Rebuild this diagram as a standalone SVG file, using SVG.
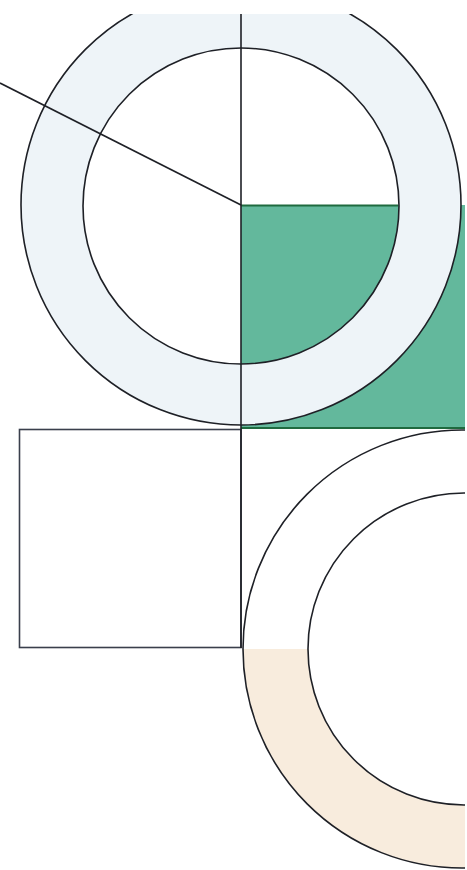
<svg xmlns="http://www.w3.org/2000/svg" width="467" height="870" viewBox="0 0 467 870">
<defs>
<clipPath id="page"><rect x="0" y="14" width="465" height="856"/></clipPath>
<clipPath id="lowerHalf"><rect x="200" y="649" width="267" height="230"/></clipPath>
</defs>
<style>
.ln{fill:none;stroke:#1e2026;stroke-width:1.6}
.box{fill:none;stroke:#3a3f4c;stroke-width:1.6}
</style>
<rect width="467" height="870" fill="#ffffff"/>
<g clip-path="url(#page)">
<g id="green-quadrant">
<rect x="241" y="205" width="224" height="223" fill="#63b89c"/>
<line x1="241" y1="205.5" x2="398" y2="205.5" stroke="#1f6a3f" stroke-width="2"/>
<line x1="241" y1="428" x2="465" y2="428" stroke="#1f6a3f" stroke-width="2"/>
</g>
<g id="top-ring">
<path d="M21,205 a220,220 0 1,0 440,0 a220,220 0 1,0 -440,0 Z M83,206 a158,158 0 1,0 316,0 a158,158 0 1,0 -316,0 Z" fill="#eef4f8" fill-rule="evenodd"/>
<circle cx="241" cy="205" r="220" class="ln"/>
<circle cx="241" cy="206" r="158" class="ln"/>
</g>
<g id="box">
<rect x="19.5" y="429.5" width="221.5" height="218" class="box"/>
</g>
<g id="bottom-ring">
<path clip-path="url(#lowerHalf)" d="M243,649 a219,219 0 1,0 438,0 a219,219 0 1,0 -438,0 Z M308,649 a156,156 0 1,0 312,0 a156,156 0 1,0 -312,0 Z" fill="#f8ecdd" fill-rule="evenodd"/>
<circle cx="462" cy="649" r="219" class="ln"/>
<circle cx="464" cy="649" r="156" class="ln"/>
</g>
<g id="connectors">
<line x1="241" y1="14" x2="241" y2="648" class="ln"/>
<line x1="0" y1="83" x2="241" y2="205" class="ln"/>
</g>
</g>
</svg>
